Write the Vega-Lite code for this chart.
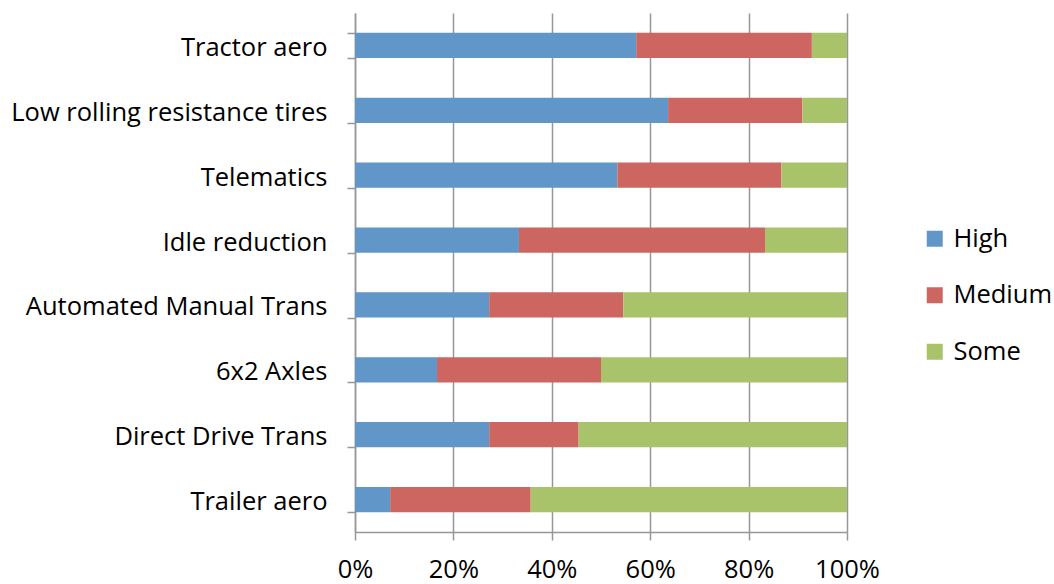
{
  "$schema": "https://vega.github.io/schema/vega-lite/v6.json",
  "width": 492,
  "height": 519,
  "autosize": {"type": "none"},
  "padding": {"left": 355, "top": 13, "right": 207, "bottom": 52},
  "background": "white",
  "config": {
    "view": {"stroke": null},
    "font": "Open Sans",
    "axis": {
      "labelFont": "Open Sans",
      "labelFontSize": 25.5,
      "labelColor": "#000000",
      "labelLimit": 0,
      "domainColor": "#979797",
      "domainWidth": 1.5,
      "tickColor": "#979797",
      "tickWidth": 1.5,
      "tickSize": 8,
      "gridColor": "#979797",
      "gridWidth": 1.5
    },
    "legend": {
      "labelFont": "Open Sans",
      "labelFontSize": 25.5,
      "labelColor": "#000000",
      "labelLimit": 0
    }
  },
  "data": {
    "values": [
      {"measure": "Tractor aero", "level": "High", "share": 57.14},
      {"measure": "Tractor aero", "level": "Medium", "share": 35.71},
      {"measure": "Tractor aero", "level": "Some", "share": 7.14},
      {"measure": "Low rolling resistance tires", "level": "High", "share": 63.64},
      {"measure": "Low rolling resistance tires", "level": "Medium", "share": 27.27},
      {"measure": "Low rolling resistance tires", "level": "Some", "share": 9.09},
      {"measure": "Telematics", "level": "High", "share": 53.33},
      {"measure": "Telematics", "level": "Medium", "share": 33.33},
      {"measure": "Telematics", "level": "Some", "share": 13.33},
      {"measure": "Idle reduction", "level": "High", "share": 33.33},
      {"measure": "Idle reduction", "level": "Medium", "share": 50.0},
      {"measure": "Idle reduction", "level": "Some", "share": 16.67},
      {"measure": "Automated Manual Trans", "level": "High", "share": 27.27},
      {"measure": "Automated Manual Trans", "level": "Medium", "share": 27.27},
      {"measure": "Automated Manual Trans", "level": "Some", "share": 45.45},
      {"measure": "6x2 Axles", "level": "High", "share": 16.67},
      {"measure": "6x2 Axles", "level": "Medium", "share": 33.33},
      {"measure": "6x2 Axles", "level": "Some", "share": 50.0},
      {"measure": "Direct Drive Trans", "level": "High", "share": 27.27},
      {"measure": "Direct Drive Trans", "level": "Medium", "share": 18.18},
      {"measure": "Direct Drive Trans", "level": "Some", "share": 54.55},
      {"measure": "Trailer aero", "level": "High", "share": 7.14},
      {"measure": "Trailer aero", "level": "Medium", "share": 28.57},
      {"measure": "Trailer aero", "level": "Some", "share": 64.29}
    ]
  },
  "transform": [
    {"calculate": "indexof(['High','Medium','Some'], datum.level)", "as": "levelOrder"}
  ],
  "mark": {"type": "bar"},
  "encoding": {
    "y": {
      "field": "measure",
      "type": "nominal",
      "sort": null,
      "title": null,
      "scale": {"paddingInner": 0.61, "paddingOuter": 0.305},
      "axis": {
        "tickBand": "extent",
        "grid": false,
        "labelPadding": 20,
        "labelOffset": 2
      }
    },
    "x": {
      "field": "share",
      "type": "quantitative",
      "stack": "normalize",
      "title": null,
      "scale": {"domain": [0, 1], "nice": false},
      "axis": {
        "format": "%",
        "values": [0, 0.2, 0.4, 0.6, 0.8, 1],
        "grid": true,
        "labelPadding": 17,
        "labelFlush": false
      }
    },
    "color": {
      "field": "level",
      "type": "nominal",
      "title": null,
      "scale": {
        "domain": ["High", "Medium", "Some"],
        "range": ["#6096C8", "#CD6660", "#A8C36A"]
      },
      "legend": {
        "orient": "none",
        "legendX": 567,
        "legendY": 213,
        "symbolType": "square",
        "symbolSize": 256,
        "symbolStrokeWidth": 0,
        "rowPadding": 29.5,
        "labelOffset": 6
      }
    },
    "order": {"field": "levelOrder", "type": "quantitative"}
  }
}
